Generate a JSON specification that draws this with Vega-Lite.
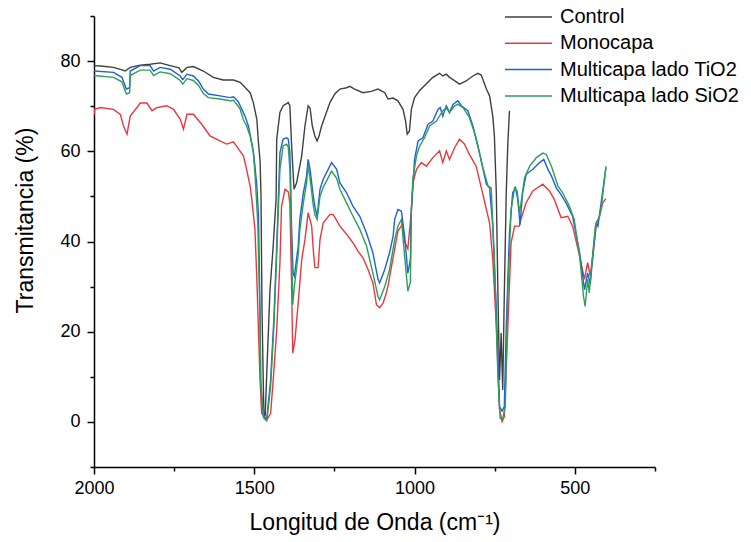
{
"$schema": "https://vega.github.io/schema/vega-lite/v6.json",
"width": 561, "height": 451,
"autosize": "none",
"padding": {"left": 94, "top": 16, "right": 96, "bottom": 75},
"background": "white",
"config": {"view": {"stroke": null}, "font": "Liberation Sans"},
"datasets": {"spec": [
{"s":"Control","wn":2000,"T":79.0},{"s":"Control","wn":1980,"T":78.9},{"s":"Control","wn":1939,"T":78.6},{"s":"Control","wn":1910,"T":78.0},{"s":"Control","wn":1903,"T":77.8},{"s":"Control","wn":1887,"T":78.6},{"s":"Control","wn":1856,"T":79.1},{"s":"Control","wn":1825,"T":79.3},{"s":"Control","wn":1794,"T":79.6},{"s":"Control","wn":1762,"T":79.0},{"s":"Control","wn":1735,"T":78.5},{"s":"Control","wn":1726,"T":77.5},{"s":"Control","wn":1710,"T":78.6},{"s":"Control","wn":1690,"T":78.8},{"s":"Control","wn":1659,"T":77.8},{"s":"Control","wn":1628,"T":76.4},{"s":"Control","wn":1597,"T":75.8},{"s":"Control","wn":1565,"T":75.8},{"s":"Control","wn":1544,"T":75.3},{"s":"Control","wn":1513,"T":73.0},{"s":"Control","wn":1503,"T":70.8},{"s":"Control","wn":1492,"T":67.1},{"s":"Control","wn":1487,"T":61.9},{"s":"Control","wn":1482,"T":58},{"s":"Control","wn":1479,"T":50},{"s":"Control","wn":1476,"T":25},{"s":"Control","wn":1470,"T":0.9},{"s":"Control","wn":1466,"T":1.5},{"s":"Control","wn":1461,"T":10.9},{"s":"Control","wn":1451,"T":29.3},{"s":"Control","wn":1441,"T":39},{"s":"Control","wn":1436,"T":45},{"s":"Control","wn":1432,"T":49.3},{"s":"Control","wn":1430,"T":62.7},{"s":"Control","wn":1420,"T":68.6},{"s":"Control","wn":1410,"T":70.1},{"s":"Control","wn":1394,"T":70.8},{"s":"Control","wn":1389,"T":70.1},{"s":"Control","wn":1384,"T":61.9},{"s":"Control","wn":1376,"T":51.6},{"s":"Control","wn":1368,"T":53},{"s":"Control","wn":1352,"T":59},{"s":"Control","wn":1342,"T":65.6},{"s":"Control","wn":1332,"T":70.1},{"s":"Control","wn":1326,"T":69.6},{"s":"Control","wn":1319,"T":65.6},{"s":"Control","wn":1311,"T":63.4},{"s":"Control","wn":1304,"T":62.3},{"s":"Control","wn":1298,"T":63.4},{"s":"Control","wn":1290,"T":65.6},{"s":"Control","wn":1275,"T":68.6},{"s":"Control","wn":1264,"T":70.8},{"s":"Control","wn":1249,"T":72.7},{"s":"Control","wn":1233,"T":73.8},{"s":"Control","wn":1212,"T":74.1},{"s":"Control","wn":1202,"T":74.4},{"s":"Control","wn":1187,"T":73.8},{"s":"Control","wn":1161,"T":73.0},{"s":"Control","wn":1135,"T":73.3},{"s":"Control","wn":1114,"T":73.8},{"s":"Control","wn":1093,"T":73.0},{"s":"Control","wn":1083,"T":71.6},{"s":"Control","wn":1067,"T":71.8},{"s":"Control","wn":1052,"T":71.2},{"s":"Control","wn":1036,"T":69.3},{"s":"Control","wn":1028,"T":66.7},{"s":"Control","wn":1023,"T":63.8},{"s":"Control","wn":1016,"T":64.5},{"s":"Control","wn":1010,"T":69.3},{"s":"Control","wn":1000,"T":71.9},{"s":"Control","wn":984,"T":73.5},{"s":"Control","wn":963,"T":75.0},{"s":"Control","wn":943,"T":76.4},{"s":"Control","wn":922,"T":77.3},{"s":"Control","wn":912,"T":76.7},{"s":"Control","wn":901,"T":77.1},{"s":"Control","wn":891,"T":76.4},{"s":"Control","wn":880,"T":75.9},{"s":"Control","wn":860,"T":74.9},{"s":"Control","wn":839,"T":75.6},{"s":"Control","wn":818,"T":76.7},{"s":"Control","wn":803,"T":77.3},{"s":"Control","wn":792,"T":76.9},{"s":"Control","wn":776,"T":73.8},{"s":"Control","wn":766,"T":72.3},{"s":"Control","wn":756,"T":67.8},{"s":"Control","wn":751,"T":63.4},{"s":"Control","wn":745,"T":50.8},{"s":"Control","wn":740,"T":28.6},{"s":"Control","wn":735,"T":9.3},{"s":"Control","wn":730,"T":19.7},{"s":"Control","wn":725,"T":7.1},{"s":"Control","wn":720,"T":28.6},{"s":"Control","wn":714,"T":50.8},{"s":"Control","wn":709,"T":61.9},{"s":"Control","wn":704,"T":69.0},
{"s":"Monocapa","wn":2000,"T":68.0},{"s":"Monocapa","wn":1998,"T":69.3},{"s":"Monocapa","wn":1980,"T":69.7},{"s":"Monocapa","wn":1939,"T":69.3},{"s":"Monocapa","wn":1918,"T":68.2},{"s":"Monocapa","wn":1908,"T":65.6},{"s":"Monocapa","wn":1897,"T":63.8},{"s":"Monocapa","wn":1887,"T":67.8},{"s":"Monocapa","wn":1866,"T":69.7},{"s":"Monocapa","wn":1856,"T":70.7},{"s":"Monocapa","wn":1835,"T":70.7},{"s":"Monocapa","wn":1819,"T":69.0},{"s":"Monocapa","wn":1804,"T":69.7},{"s":"Monocapa","wn":1773,"T":70.1},{"s":"Monocapa","wn":1752,"T":69.3},{"s":"Monocapa","wn":1731,"T":67.1},{"s":"Monocapa","wn":1721,"T":64.9},{"s":"Monocapa","wn":1710,"T":68.2},{"s":"Monocapa","wn":1690,"T":68.2},{"s":"Monocapa","wn":1664,"T":66.0},{"s":"Monocapa","wn":1638,"T":63.4},{"s":"Monocapa","wn":1607,"T":62.3},{"s":"Monocapa","wn":1586,"T":61.6},{"s":"Monocapa","wn":1565,"T":62.1},{"s":"Monocapa","wn":1550,"T":60.6},{"s":"Monocapa","wn":1534,"T":59.0},{"s":"Monocapa","wn":1524,"T":56.0},{"s":"Monocapa","wn":1513,"T":52.3},{"s":"Monocapa","wn":1508,"T":49.5},{"s":"Monocapa","wn":1498,"T":42.7},{"s":"Monocapa","wn":1492,"T":31.6},{"s":"Monocapa","wn":1487,"T":20.4},{"s":"Monocapa","wn":1482,"T":9.3},{"s":"Monocapa","wn":1477,"T":1.9},{"s":"Monocapa","wn":1461,"T":0.4},{"s":"Monocapa","wn":1449,"T":1.9},{"s":"Monocapa","wn":1441,"T":9.3},{"s":"Monocapa","wn":1430,"T":20.4},{"s":"Monocapa","wn":1420,"T":35.3},{"s":"Monocapa","wn":1415,"T":47.8},{"s":"Monocapa","wn":1404,"T":51.6},{"s":"Monocapa","wn":1394,"T":51.0},{"s":"Monocapa","wn":1389,"T":48.5},{"s":"Monocapa","wn":1384,"T":31.6},{"s":"Monocapa","wn":1380,"T":15.3},{"s":"Monocapa","wn":1373,"T":18.2},{"s":"Monocapa","wn":1363,"T":26.4},{"s":"Monocapa","wn":1352,"T":36},{"s":"Monocapa","wn":1342,"T":40.4},{"s":"Monocapa","wn":1332,"T":46.4},{"s":"Monocapa","wn":1321,"T":43.4},{"s":"Monocapa","wn":1316,"T":38.2},{"s":"Monocapa","wn":1311,"T":34.2},{"s":"Monocapa","wn":1301,"T":34.2},{"s":"Monocapa","wn":1295,"T":40.4},{"s":"Monocapa","wn":1285,"T":44.1},{"s":"Monocapa","wn":1264,"T":46.0},{"s":"Monocapa","wn":1254,"T":46.0},{"s":"Monocapa","wn":1233,"T":43.4},{"s":"Monocapa","wn":1212,"T":41.6},{"s":"Monocapa","wn":1192,"T":39.7},{"s":"Monocapa","wn":1176,"T":37.8},{"s":"Monocapa","wn":1161,"T":36.4},{"s":"Monocapa","wn":1145,"T":33.8},{"s":"Monocapa","wn":1130,"T":30.8},{"s":"Monocapa","wn":1119,"T":26.0},{"s":"Monocapa","wn":1109,"T":25.3},{"s":"Monocapa","wn":1098,"T":26.4},{"s":"Monocapa","wn":1088,"T":28.6},{"s":"Monocapa","wn":1083,"T":30.1},{"s":"Monocapa","wn":1067,"T":36.4},{"s":"Monocapa","wn":1052,"T":42.3},{"s":"Monocapa","wn":1038,"T":43.8},{"s":"Monocapa","wn":1031,"T":40.0},{"s":"Monocapa","wn":1021,"T":38.4},{"s":"Monocapa","wn":1010,"T":46.8},{"s":"Monocapa","wn":1005,"T":53},{"s":"Monocapa","wn":994,"T":56},{"s":"Monocapa","wn":979,"T":57.5},{"s":"Monocapa","wn":963,"T":56.7},{"s":"Monocapa","wn":943,"T":58.6},{"s":"Monocapa","wn":922,"T":60.1},{"s":"Monocapa","wn":912,"T":57.5},{"s":"Monocapa","wn":901,"T":60.1},{"s":"Monocapa","wn":891,"T":58.2},{"s":"Monocapa","wn":875,"T":60.8},{"s":"Monocapa","wn":860,"T":62.7},{"s":"Monocapa","wn":844,"T":61.6},{"s":"Monocapa","wn":829,"T":59.3},{"s":"Monocapa","wn":808,"T":56.7},{"s":"Monocapa","wn":788,"T":50.8},{"s":"Monocapa","wn":766,"T":44.1},{"s":"Monocapa","wn":756,"T":36},{"s":"Monocapa","wn":745,"T":21.2},{"s":"Monocapa","wn":735,"T":2.7},{"s":"Monocapa","wn":727,"T":0.1},{"s":"Monocapa","wn":720,"T":1.2},{"s":"Monocapa","wn":709,"T":21.2},{"s":"Monocapa","wn":699,"T":39.7},{"s":"Monocapa","wn":688,"T":43.4},{"s":"Monocapa","wn":673,"T":43.4},{"s":"Monocapa","wn":668,"T":45},{"s":"Monocapa","wn":652,"T":48.6},{"s":"Monocapa","wn":631,"T":51.2},{"s":"Monocapa","wn":600,"T":52.7},{"s":"Monocapa","wn":579,"T":51.2},{"s":"Monocapa","wn":564,"T":49.3},{"s":"Monocapa","wn":543,"T":45.3},{"s":"Monocapa","wn":522,"T":45.6},{"s":"Monocapa","wn":507,"T":43.4},{"s":"Monocapa","wn":485,"T":36.7},{"s":"Monocapa","wn":470,"T":31.6},{"s":"Monocapa","wn":460,"T":35.3},{"s":"Monocapa","wn":452,"T":32.3},{"s":"Monocapa","wn":444,"T":36.7},{"s":"Monocapa","wn":433,"T":44.1},{"s":"Monocapa","wn":423,"T":45.6},{"s":"Monocapa","wn":413,"T":48.6},{"s":"Monocapa","wn":403,"T":49.5},
{"s":"Multicapa lado TiO2","wn":2000,"T":77.8},{"s":"Multicapa lado TiO2","wn":1939,"T":77.5},{"s":"Multicapa lado TiO2","wn":1913,"T":76.4},{"s":"Multicapa lado TiO2","wn":1899,"T":73.8},{"s":"Multicapa lado TiO2","wn":1889,"T":74.1},{"s":"Multicapa lado TiO2","wn":1887,"T":77.8},{"s":"Multicapa lado TiO2","wn":1856,"T":79.0},{"s":"Multicapa lado TiO2","wn":1825,"T":79.0},{"s":"Multicapa lado TiO2","wn":1814,"T":77.8},{"s":"Multicapa lado TiO2","wn":1794,"T":78.6},{"s":"Multicapa lado TiO2","wn":1762,"T":78.2},{"s":"Multicapa lado TiO2","wn":1731,"T":76.7},{"s":"Multicapa lado TiO2","wn":1723,"T":75.9},{"s":"Multicapa lado TiO2","wn":1710,"T":77.1},{"s":"Multicapa lado TiO2","wn":1690,"T":76.7},{"s":"Multicapa lado TiO2","wn":1674,"T":75.6},{"s":"Multicapa lado TiO2","wn":1659,"T":73.8},{"s":"Multicapa lado TiO2","wn":1643,"T":72.7},{"s":"Multicapa lado TiO2","wn":1607,"T":72.3},{"s":"Multicapa lado TiO2","wn":1576,"T":71.9},{"s":"Multicapa lado TiO2","wn":1565,"T":72.1},{"s":"Multicapa lado TiO2","wn":1550,"T":71.0},{"s":"Multicapa lado TiO2","wn":1544,"T":70.1},{"s":"Multicapa lado TiO2","wn":1529,"T":67.8},{"s":"Multicapa lado TiO2","wn":1518,"T":65.5},{"s":"Multicapa lado TiO2","wn":1508,"T":61.9},{"s":"Multicapa lado TiO2","wn":1503,"T":60},{"s":"Multicapa lado TiO2","wn":1498,"T":56.7},{"s":"Multicapa lado TiO2","wn":1492,"T":52.3},{"s":"Multicapa lado TiO2","wn":1487,"T":46},{"s":"Multicapa lado TiO2","wn":1482,"T":24.1},{"s":"Multicapa lado TiO2","wn":1480,"T":9.3},{"s":"Multicapa lado TiO2","wn":1472,"T":1.2},{"s":"Multicapa lado TiO2","wn":1461,"T":0.8},{"s":"Multicapa lado TiO2","wn":1449,"T":9.3},{"s":"Multicapa lado TiO2","wn":1439,"T":22.7},{"s":"Multicapa lado TiO2","wn":1430,"T":39.0},{"s":"Multicapa lado TiO2","wn":1425,"T":49.3},{"s":"Multicapa lado TiO2","wn":1420,"T":59.7},{"s":"Multicapa lado TiO2","wn":1410,"T":62.7},{"s":"Multicapa lado TiO2","wn":1399,"T":63.0},{"s":"Multicapa lado TiO2","wn":1394,"T":62.7},{"s":"Multicapa lado TiO2","wn":1389,"T":59.7},{"s":"Multicapa lado TiO2","wn":1387,"T":55},{"s":"Multicapa lado TiO2","wn":1384,"T":44},{"s":"Multicapa lado TiO2","wn":1379,"T":33.0},{"s":"Multicapa lado TiO2","wn":1375,"T":32.3},{"s":"Multicapa lado TiO2","wn":1363,"T":39},{"s":"Multicapa lado TiO2","wn":1358,"T":44.9},{"s":"Multicapa lado TiO2","wn":1347,"T":50.8},{"s":"Multicapa lado TiO2","wn":1337,"T":54.5},{"s":"Multicapa lado TiO2","wn":1332,"T":58.2},{"s":"Multicapa lado TiO2","wn":1326,"T":56},{"s":"Multicapa lado TiO2","wn":1316,"T":50},{"s":"Multicapa lado TiO2","wn":1311,"T":47.8},{"s":"Multicapa lado TiO2","wn":1304,"T":45.6},{"s":"Multicapa lado TiO2","wn":1295,"T":51.6},{"s":"Multicapa lado TiO2","wn":1285,"T":53.8},{"s":"Multicapa lado TiO2","wn":1259,"T":57.5},{"s":"Multicapa lado TiO2","wn":1243,"T":56.0},{"s":"Multicapa lado TiO2","wn":1233,"T":53.0},{"s":"Multicapa lado TiO2","wn":1212,"T":50.8},{"s":"Multicapa lado TiO2","wn":1192,"T":47.8},{"s":"Multicapa lado TiO2","wn":1171,"T":45.6},{"s":"Multicapa lado TiO2","wn":1150,"T":41.9},{"s":"Multicapa lado TiO2","wn":1130,"T":37.5},{"s":"Multicapa lado TiO2","wn":1114,"T":31.6},{"s":"Multicapa lado TiO2","wn":1109,"T":30.8},{"s":"Multicapa lado TiO2","wn":1093,"T":33.8},{"s":"Multicapa lado TiO2","wn":1078,"T":37.5},{"s":"Multicapa lado TiO2","wn":1067,"T":41.2},{"s":"Multicapa lado TiO2","wn":1062,"T":44.9},{"s":"Multicapa lado TiO2","wn":1052,"T":47.1},{"s":"Multicapa lado TiO2","wn":1041,"T":46.7},{"s":"Multicapa lado TiO2","wn":1031,"T":41.2},{"s":"Multicapa lado TiO2","wn":1021,"T":33.0},{"s":"Multicapa lado TiO2","wn":1013,"T":36},{"s":"Multicapa lado TiO2","wn":1010,"T":47.1},{"s":"Multicapa lado TiO2","wn":1005,"T":52.3},{"s":"Multicapa lado TiO2","wn":1000,"T":58.2},{"s":"Multicapa lado TiO2","wn":989,"T":62.3},{"s":"Multicapa lado TiO2","wn":974,"T":63.0},{"s":"Multicapa lado TiO2","wn":958,"T":66.0},{"s":"Multicapa lado TiO2","wn":943,"T":66.7},{"s":"Multicapa lado TiO2","wn":927,"T":69.3},{"s":"Multicapa lado TiO2","wn":920,"T":69.7},{"s":"Multicapa lado TiO2","wn":912,"T":67.8},{"s":"Multicapa lado TiO2","wn":901,"T":70.1},{"s":"Multicapa lado TiO2","wn":891,"T":68.6},{"s":"Multicapa lado TiO2","wn":880,"T":70.4},{"s":"Multicapa lado TiO2","wn":865,"T":71.2},{"s":"Multicapa lado TiO2","wn":854,"T":70.1},{"s":"Multicapa lado TiO2","wn":834,"T":69.0},{"s":"Multicapa lado TiO2","wn":818,"T":65.6},{"s":"Multicapa lado TiO2","wn":798,"T":59.7},{"s":"Multicapa lado TiO2","wn":776,"T":52.7},{"s":"Multicapa lado TiO2","wn":766,"T":51.9},{"s":"Multicapa lado TiO2","wn":756,"T":43.4},{"s":"Multicapa lado TiO2","wn":745,"T":24.9},{"s":"Multicapa lado TiO2","wn":735,"T":3.4},{"s":"Multicapa lado TiO2","wn":727,"T":2.4},{"s":"Multicapa lado TiO2","wn":720,"T":3.4},{"s":"Multicapa lado TiO2","wn":714,"T":21.2},{"s":"Multicapa lado TiO2","wn":704,"T":41.9},{"s":"Multicapa lado TiO2","wn":694,"T":50.8},{"s":"Multicapa lado TiO2","wn":685,"T":51.9},{"s":"Multicapa lado TiO2","wn":678,"T":49.3},{"s":"Multicapa lado TiO2","wn":671,"T":43.8},{"s":"Multicapa lado TiO2","wn":663,"T":50.8},{"s":"Multicapa lado TiO2","wn":652,"T":54.9},{"s":"Multicapa lado TiO2","wn":631,"T":56},{"s":"Multicapa lado TiO2","wn":610,"T":57.5},{"s":"Multicapa lado TiO2","wn":597,"T":58.2},{"s":"Multicapa lado TiO2","wn":584,"T":56},{"s":"Multicapa lado TiO2","wn":573,"T":54.5},{"s":"Multicapa lado TiO2","wn":558,"T":51.9},{"s":"Multicapa lado TiO2","wn":543,"T":50.4},{"s":"Multicapa lado TiO2","wn":528,"T":48.6},{"s":"Multicapa lado TiO2","wn":507,"T":45.6},{"s":"Multicapa lado TiO2","wn":485,"T":37.5},{"s":"Multicapa lado TiO2","wn":470,"T":29.3},{"s":"Multicapa lado TiO2","wn":460,"T":33.0},{"s":"Multicapa lado TiO2","wn":452,"T":30.6},{"s":"Multicapa lado TiO2","wn":444,"T":36.7},{"s":"Multicapa lado TiO2","wn":433,"T":44.1},{"s":"Multicapa lado TiO2","wn":428,"T":43.4},{"s":"Multicapa lado TiO2","wn":418,"T":48.6},{"s":"Multicapa lado TiO2","wn":403,"T":56.4},
{"s":"Multicapa lado SiO2","wn":2000,"T":76.8},{"s":"Multicapa lado SiO2","wn":1939,"T":76.4},{"s":"Multicapa lado SiO2","wn":1913,"T":75.4},{"s":"Multicapa lado SiO2","wn":1899,"T":72.7},{"s":"Multicapa lado SiO2","wn":1889,"T":73.0},{"s":"Multicapa lado SiO2","wn":1887,"T":76.8},{"s":"Multicapa lado SiO2","wn":1856,"T":78.0},{"s":"Multicapa lado SiO2","wn":1825,"T":78.0},{"s":"Multicapa lado SiO2","wn":1814,"T":76.8},{"s":"Multicapa lado SiO2","wn":1794,"T":77.6},{"s":"Multicapa lado SiO2","wn":1762,"T":77.2},{"s":"Multicapa lado SiO2","wn":1731,"T":75.7},{"s":"Multicapa lado SiO2","wn":1723,"T":74.9},{"s":"Multicapa lado SiO2","wn":1710,"T":76.1},{"s":"Multicapa lado SiO2","wn":1690,"T":75.7},{"s":"Multicapa lado SiO2","wn":1674,"T":74.6},{"s":"Multicapa lado SiO2","wn":1659,"T":72.8},{"s":"Multicapa lado SiO2","wn":1643,"T":71.9},{"s":"Multicapa lado SiO2","wn":1607,"T":71.6},{"s":"Multicapa lado SiO2","wn":1576,"T":71.2},{"s":"Multicapa lado SiO2","wn":1565,"T":71.3},{"s":"Multicapa lado SiO2","wn":1550,"T":70.0},{"s":"Multicapa lado SiO2","wn":1544,"T":69.3},{"s":"Multicapa lado SiO2","wn":1534,"T":67.0},{"s":"Multicapa lado SiO2","wn":1524,"T":65.6},{"s":"Multicapa lado SiO2","wn":1513,"T":63.4},{"s":"Multicapa lado SiO2","wn":1503,"T":59.7},{"s":"Multicapa lado SiO2","wn":1498,"T":55.2},{"s":"Multicapa lado SiO2","wn":1489,"T":44},{"s":"Multicapa lado SiO2","wn":1482,"T":22},{"s":"Multicapa lado SiO2","wn":1480,"T":8},{"s":"Multicapa lado SiO2","wn":1470,"T":0.8},{"s":"Multicapa lado SiO2","wn":1461,"T":0.2},{"s":"Multicapa lado SiO2","wn":1449,"T":8},{"s":"Multicapa lado SiO2","wn":1439,"T":21},{"s":"Multicapa lado SiO2","wn":1430,"T":37},{"s":"Multicapa lado SiO2","wn":1425,"T":47},{"s":"Multicapa lado SiO2","wn":1420,"T":56},{"s":"Multicapa lado SiO2","wn":1410,"T":61.2},{"s":"Multicapa lado SiO2","wn":1399,"T":61.6},{"s":"Multicapa lado SiO2","wn":1394,"T":61.0},{"s":"Multicapa lado SiO2","wn":1389,"T":56},{"s":"Multicapa lado SiO2","wn":1384,"T":40},{"s":"Multicapa lado SiO2","wn":1380,"T":26},{"s":"Multicapa lado SiO2","wn":1375,"T":30},{"s":"Multicapa lado SiO2","wn":1363,"T":37},{"s":"Multicapa lado SiO2","wn":1358,"T":42.5},{"s":"Multicapa lado SiO2","wn":1347,"T":48.5},{"s":"Multicapa lado SiO2","wn":1337,"T":53},{"s":"Multicapa lado SiO2","wn":1332,"T":56.7},{"s":"Multicapa lado SiO2","wn":1326,"T":54},{"s":"Multicapa lado SiO2","wn":1316,"T":48},{"s":"Multicapa lado SiO2","wn":1311,"T":46},{"s":"Multicapa lado SiO2","wn":1304,"T":44.9},{"s":"Multicapa lado SiO2","wn":1295,"T":50},{"s":"Multicapa lado SiO2","wn":1285,"T":52},{"s":"Multicapa lado SiO2","wn":1259,"T":55.6},{"s":"Multicapa lado SiO2","wn":1243,"T":54.0},{"s":"Multicapa lado SiO2","wn":1233,"T":51.6},{"s":"Multicapa lado SiO2","wn":1212,"T":48.5},{"s":"Multicapa lado SiO2","wn":1192,"T":45.6},{"s":"Multicapa lado SiO2","wn":1171,"T":42.7},{"s":"Multicapa lado SiO2","wn":1150,"T":39},{"s":"Multicapa lado SiO2","wn":1130,"T":33.0},{"s":"Multicapa lado SiO2","wn":1114,"T":27.8},{"s":"Multicapa lado SiO2","wn":1109,"T":27.1},{"s":"Multicapa lado SiO2","wn":1093,"T":30},{"s":"Multicapa lado SiO2","wn":1078,"T":33.8},{"s":"Multicapa lado SiO2","wn":1062,"T":40.4},{"s":"Multicapa lado SiO2","wn":1052,"T":43.4},{"s":"Multicapa lado SiO2","wn":1041,"T":44.9},{"s":"Multicapa lado SiO2","wn":1031,"T":36.7},{"s":"Multicapa lado SiO2","wn":1021,"T":29},{"s":"Multicapa lado SiO2","wn":1013,"T":31},{"s":"Multicapa lado SiO2","wn":1010,"T":47},{"s":"Multicapa lado SiO2","wn":1005,"T":54.1},{"s":"Multicapa lado SiO2","wn":994,"T":59},{"s":"Multicapa lado SiO2","wn":984,"T":61.2},{"s":"Multicapa lado SiO2","wn":969,"T":63},{"s":"Multicapa lado SiO2","wn":953,"T":65.6},{"s":"Multicapa lado SiO2","wn":932,"T":66.7},{"s":"Multicapa lado SiO2","wn":912,"T":69},{"s":"Multicapa lado SiO2","wn":901,"T":69.6},{"s":"Multicapa lado SiO2","wn":891,"T":68.6},{"s":"Multicapa lado SiO2","wn":875,"T":70.1},{"s":"Multicapa lado SiO2","wn":865,"T":70.4},{"s":"Multicapa lado SiO2","wn":849,"T":69.7},{"s":"Multicapa lado SiO2","wn":829,"T":67.5},{"s":"Multicapa lado SiO2","wn":808,"T":63.0},{"s":"Multicapa lado SiO2","wn":788,"T":56.7},{"s":"Multicapa lado SiO2","wn":771,"T":52.3},{"s":"Multicapa lado SiO2","wn":761,"T":51.9},{"s":"Multicapa lado SiO2","wn":751,"T":36},{"s":"Multicapa lado SiO2","wn":740,"T":10.1},{"s":"Multicapa lado SiO2","wn":733,"T":0.8},{"s":"Multicapa lado SiO2","wn":725,"T":0.8},{"s":"Multicapa lado SiO2","wn":717,"T":3.5},{"s":"Multicapa lado SiO2","wn":709,"T":28.6},{"s":"Multicapa lado SiO2","wn":699,"T":47.1},{"s":"Multicapa lado SiO2","wn":688,"T":51.9},{"s":"Multicapa lado SiO2","wn":680,"T":51.2},{"s":"Multicapa lado SiO2","wn":673,"T":46.4},{"s":"Multicapa lado SiO2","wn":668,"T":48.5},{"s":"Multicapa lado SiO2","wn":657,"T":54.1},{"s":"Multicapa lado SiO2","wn":641,"T":56.7},{"s":"Multicapa lado SiO2","wn":620,"T":58.6},{"s":"Multicapa lado SiO2","wn":600,"T":59.6},{"s":"Multicapa lado SiO2","wn":589,"T":59.3},{"s":"Multicapa lado SiO2","wn":573,"T":56.7},{"s":"Multicapa lado SiO2","wn":553,"T":52.3},{"s":"Multicapa lado SiO2","wn":538,"T":50.8},{"s":"Multicapa lado SiO2","wn":517,"T":47.8},{"s":"Multicapa lado SiO2","wn":502,"T":44.9},{"s":"Multicapa lado SiO2","wn":485,"T":36.7},{"s":"Multicapa lado SiO2","wn":473,"T":27.8},{"s":"Multicapa lado SiO2","wn":468,"T":25.6},{"s":"Multicapa lado SiO2","wn":460,"T":31.6},{"s":"Multicapa lado SiO2","wn":455,"T":28.6},{"s":"Multicapa lado SiO2","wn":446,"T":36},{"s":"Multicapa lado SiO2","wn":436,"T":43.4},{"s":"Multicapa lado SiO2","wn":423,"T":45.6},{"s":"Multicapa lado SiO2","wn":416,"T":48.5},{"s":"Multicapa lado SiO2","wn":403,"T":56.7}
]},
"data": {"name": "spec"},
"mark": {"type": "line", "strokeWidth": 1.4, "clip": true},
"encoding": {
  "x": {"field": "wn", "type": "quantitative",
    "scale": {"domain": [2000, 250], "nice": false, "zero": false},
    "axis": {"values": [2000,1750,1500,1250,1000,750,500,250], "format": "d",
      "labelExpr": "datum.value % 500 === 0 ? datum.label : ''",
      "tickSize": {"condition": {"test": "datum.value % 500 === 0", "value": 7}, "value": 4},
      "grid": false, "domainColor": "black", "domainWidth": 1.5, "tickColor": "black", "tickWidth": 1.5,
      "labelFontSize": 18, "labelColor": "black", "labelPadding": 5, "labelFlush": false,
      "title": "Longitud de Onda (cm⁻¹)", "titleFontSize": 23, "titleFontWeight": "normal", "titleColor": "black", "titlePadding": 14}},
  "y": {"field": "T", "type": "quantitative",
    "scale": {"domain": [-10, 90], "nice": false, "zero": false},
    "axis": {"values": [-10,0,10,20,30,40,50,60,70,80,90],
      "labelExpr": "datum.value % 20 === 0 ? datum.label : ''",
      "tickSize": {"condition": {"test": "datum.value % 20 === 0", "value": 7}, "value": 4},
      "grid": false, "domainColor": "black", "domainWidth": 1.5, "tickColor": "black", "tickWidth": 1.5,
      "labelFontSize": 18, "labelColor": "black", "labelPadding": 7, "labelFlush": false,
      "title": "Transmitancia (%)", "titleFontSize": 23, "titleFontWeight": "normal", "titleColor": "black", "titlePadding": 22, "titleY": 204}},
  "color": {"field": "s", "type": "nominal",
    "scale": {"domain": ["Control","Monocapa","Multicapa lado TiO2","Multicapa lado SiO2"],
              "range": ["#404040","#E8383D","#1F5FD9","#2E9E5B"]},
    "legend": {"orient": "none", "legendX": 410, "legendY": -9, "title": null,
      "symbolType": "stroke", "symbolSize": 2209, "symbolStrokeWidth": 1.5, "labelLimit": 0,
      "clipHeight": 20,
      "labelFontSize": 20, "labelColor": "black", "labelOffset": 7, "rowPadding": 6.3, "padding": 0}}
}
}
